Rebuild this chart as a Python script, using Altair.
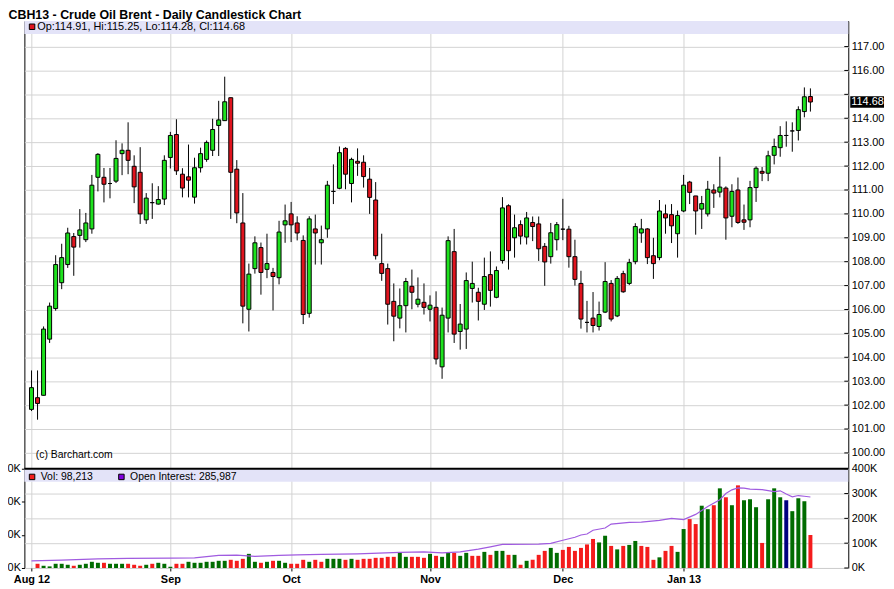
import altair as alt
import pandas as pd

title_text = "CBH13 - Crude Oil Brent - Daily Candlestick Chart"
copyright_text = "(c) Barchart.com"
month_labels = ["Aug 12", "Sep", "Oct", "Nov", "Dec", "Jan 13"]
month_start_idx = [0, 23, 43, 66, 88, 108]

opens = [
    101.82, 102.31, 102.41, 104.76, 106.04, 107.12, 107.88, 109.05, 109.10, 108.92,
    109.37, 111.53, 111.53, 111.27, 111.37, 112.52, 112.66, 111.99, 111.74, 109.75,
    110.47, 110.41, 110.62, 112.36, 113.32, 111.66, 111.55, 110.70, 111.93, 112.28,
    112.66, 113.70, 113.90, 114.86, 111.87, 109.62, 106.01, 107.71, 108.59, 107.68,
    107.55, 107.33, 109.54, 110.00, 109.62, 108.89, 105.84, 109.37, 108.79, 109.37,
    110.94, 111.07, 112.74, 111.27, 112.20, 112.16, 111.45, 110.58, 107.92, 107.71,
    106.34, 105.64, 106.16, 106.97, 106.22, 106.30, 106.01, 106.09, 103.60, 105.64,
    108.42, 105.08, 105.18, 106.88, 106.72, 106.22, 107.46, 106.51, 108.05, 110.34,
    109.00, 109.55, 109.03, 109.64, 109.58, 108.64, 108.21, 108.92, 109.36, 109.36,
    108.21, 107.09, 105.46, 105.64, 105.29, 105.89, 107.09, 105.73, 107.50, 107.09,
    108.00, 109.20, 109.37, 108.25, 108.17, 110.00, 109.97, 109.17, 110.12, 111.33,
    110.75, 110.20, 110.00, 111.00, 110.91, 111.08, 109.90, 111.00, 109.75, 109.75,
    111.10, 111.78, 111.70, 112.45, 112.77, 113.28, 113.47, 113.49, 114.28, 114.91,
]
highs = [
    103.45, 103.45, 105.29, 106.29, 108.27, 108.75, 109.42, 109.20, 110.20, 110.04,
    111.63, 112.54, 111.92, 111.92, 113.08, 112.95, 113.83, 112.45, 112.79, 110.87,
    111.28, 111.16, 112.45, 113.43, 113.96, 111.91, 112.90, 112.35, 112.77, 113.07,
    113.98, 114.73, 115.74, 114.86, 112.25, 110.87, 107.92, 109.06, 108.80, 109.17,
    107.74, 109.71, 110.39, 110.50, 109.90, 109.10, 109.90, 109.97, 109.51, 111.38,
    112.07, 112.82, 112.79, 112.35, 112.74, 112.45, 111.92, 111.33, 109.17, 107.92,
    107.09, 106.88, 107.32, 107.67, 107.34, 107.09, 106.59, 106.76, 106.08, 109.06,
    109.37, 106.23, 107.55, 108.00, 106.91, 108.17, 108.43, 107.80, 110.70, 110.40,
    109.97, 109.73, 110.08, 109.89, 109.89, 108.78, 109.62, 109.66, 110.63, 109.50,
    108.92, 107.62, 106.36, 106.73, 106.33, 107.98, 107.23, 107.40, 107.62, 108.12,
    109.61, 109.79, 109.40, 109.00, 110.58, 110.39, 110.41, 110.14, 111.63, 111.38,
    110.75, 110.75, 111.38, 111.24, 112.39, 111.15, 111.24, 111.52, 110.39, 111.38,
    111.99, 111.96, 112.64, 113.15, 113.67, 113.87, 113.83, 114.50, 115.29, 115.25,
]
lows = [
    101.75, 101.39, 102.40, 104.60, 105.95, 106.85, 107.74, 107.41, 108.59, 108.82,
    109.17, 110.94, 110.48, 110.65, 111.29, 111.62, 111.66, 110.45, 109.58, 109.58,
    109.79, 110.39, 110.37, 111.90, 111.63, 110.69, 110.69, 110.43, 111.73, 112.18,
    112.42, 112.42, 113.90, 109.79, 109.61, 105.42, 105.08, 107.50, 106.62, 107.31,
    105.96, 107.05, 108.79, 108.82, 108.89, 105.39, 105.66, 107.88, 107.88, 109.00,
    110.41, 111.03, 111.03, 110.48, 111.59, 111.10, 110.00, 108.09, 107.20, 105.37,
    104.67, 105.21, 105.04, 106.01, 106.09, 105.79, 105.50, 103.70, 103.10, 105.04,
    104.60, 104.32, 104.35, 106.29, 105.54, 105.98, 106.12, 106.47, 107.92, 107.67,
    108.17, 108.72, 108.72, 108.86, 108.03, 106.99, 107.92, 108.47, 108.90, 107.75,
    107.00, 105.20, 105.04, 105.04, 105.12, 105.85, 105.50, 105.68, 106.70, 107.02,
    107.89, 108.79, 107.90, 107.28, 108.06, 109.17, 108.78, 108.17, 110.07, 110.41,
    109.13, 109.37, 109.89, 110.25, 110.69, 108.92, 109.44, 109.58, 109.33, 109.44,
    110.50, 111.37, 111.37, 112.07, 112.39, 112.81, 112.60, 113.07, 114.04, 114.28,
]
closes = [
    102.73, 102.07, 105.18, 106.14, 107.88, 108.17, 109.20, 108.61, 109.33, 109.62,
    111.20, 112.49, 111.24, 111.27, 112.32, 112.66, 112.24, 111.13, 110.00, 110.66,
    110.47, 110.60, 112.24, 113.28, 111.80, 111.08, 111.41, 111.93, 112.52, 112.99,
    113.53, 113.93, 114.69, 111.74, 110.04, 106.14, 107.48, 108.79, 107.55, 107.92,
    107.38, 109.24, 109.71, 109.54, 109.20, 105.79, 109.79, 109.20, 108.92, 111.20,
    110.94, 112.56, 111.66, 112.28, 112.12, 111.56, 110.69, 108.25, 107.51, 106.22,
    105.72, 106.16, 107.17, 106.72, 106.43, 106.09, 106.18, 103.93, 105.76, 108.88,
    104.97, 105.39, 107.21, 107.09, 106.34, 107.38, 106.80, 107.63, 110.25, 108.46,
    109.42, 109.07, 109.83, 109.47, 108.54, 107.99, 109.21, 109.55, 109.36, 108.21,
    107.26, 105.60, 105.46, 105.33, 105.79, 107.17, 105.60, 107.30, 106.74, 107.96,
    109.47, 109.37, 108.17, 107.92, 110.12, 109.83, 109.50, 109.93, 111.20, 110.90,
    110.12, 110.43, 111.03, 110.87, 111.12, 109.83, 110.94, 109.64, 109.65, 111.10,
    111.91, 111.70, 112.43, 112.82, 113.28, 113.28, 113.47, 114.36, 114.90, 114.68,
]
# daily volume in thousands (first day has no bar)
volume_k = [
    None, 17, 9, 6.5, 17, 17, 13, 9, 13, 17,
    25, 21, 21, 17, 17, 17, 17, 13, 9, 13,
    17, 21, 17, 5, 17, 17, 25, 21, 21, 25,
    25, 29, 29, 33, 29, 37, 57, 25, 21, 25,
    29, 29, 21, 17, 17, 33, 25, 33, 25, 37,
    37, 37, 33, 37, 33, 37, 37, 41, 41, 45,
    45, 61, 45, 45, 45, 41, 57, 49, 45, 61,
    61, 49, 61, 49, 49, 65, 53, 69, 69, 53,
    53, 13, 29, 33, 53, 69, 81, 61, 73, 85,
    69, 81, 95, 117, 103, 130, 89, 75, 89, 93,
    109, 89, 85, 33, 43, 69, 89, 65, 157, 197,
    177, 251, 237, 253, 321, 285, 253, 333, 273, 277,
    245, 101, 277, 321, 285, 273, 229, 281, 269, 133,
]
# volume bar colour: g = up, r = down, b = unchanged
vol_dir = """g r g g g g g r g g  g g r g g g r r r g  r g g g r r g g g g
g g g r r r g g r g  r g g r r r g r r g  g g r g r r r r r r
r g g r r r g r g g  r g g r r g r g g r  g r g r r r g g r r
r r r r g g r g r g  g r r r g r r g g r  r g g r g r g r g g
g r g g g b g g g r""".split()
oi_idx = [0, 5, 11, 16, 23, 27, 31, 34, 37, 41, 44, 48, 54, 61, 65, 68, 71, 74, 76, 78,
          84, 86, 88, 90, 91, 92, 93, 95, 96, 99, 101, 104, 106, 108, 110, 111, 112, 114, 115, 116,
          117, 118, 119, 121, 123, 124, 125, 126, 127, 128, 129]
oi_k = [29, 32, 37, 39, 40, 41, 51, 52, 47, 51, 53, 55, 57, 63, 65, 61, 65, 76, 85, 95,
        96, 99, 112, 124, 133, 137, 152, 161, 177, 184, 185, 192, 200, 195, 216, 232, 248, 275, 300, 315,
        323, 322, 318, 316, 308, 311, 298, 287, 292, 289, 286]
vol_header_value = 98213
oi_header_value = 285987
price_ticks = list(range(100, 118))
vol_right_ticks = [0, 100000, 200000, 300000, 400000]
vol_left_ticks = [0, 100000, 200000, 300000]

# ---------------- layout constants ----------------
W, H = 830, 551
FONT = "Liberation Sans"
GREEN, RED = "#1ee21e", "#e0141e"
VCOLORS = {"g": "#006c00", "r": "#f41c1c", "b": "#000080"}
BAND = "#e3e3f8"
GRID = "#d3d3d3"
OI_COLOR = "#a05be0"

x_scale = alt.Scale(domain=[-0.357, 134.45], nice=False, zero=False)
price_scale = alt.Scale(domain=[95.185, 118.067], nice=False, zero=False)
vol_scale = alt.Scale(domain=[0, 2204000], nice=False, zero=False)
left_scale = alt.Scale(domain=[0, 1653000], nice=False, zero=False)

month_expr = " : ".join(f"datum.value == {i} ? '{lab}'" for i, lab in zip(month_start_idx, month_labels)) + " : ''"
x_axis = alt.Axis(values=month_start_idx, labelExpr=month_expr, grid=True, gridColor=GRID,
                  domain=False, ticks=True, tickSize=3, tickColor="black", labelPadding=3,
                  labelFontWeight="bold", labelFontSize=11, labelFont=FONT, labelColor="black",
                  title=None, labelOverlap=False)
last_close = closes[-1]
price_axis = alt.Axis(orient="right", values=price_ticks, grid=True, gridColor=GRID, domain=False,
                      ticks=False, labelPadding=3, labelFontSize=11, labelFont=FONT, labelColor="black",
                      labelExpr=f"abs(datum.value - {last_close}) < 0.5 ? '' : format(datum.value, '.2f')",
                      title=None, labelOverlap=False, labelBound=False, labelFlush=False)
vol_axis = alt.Axis(orient="right", values=vol_right_ticks, grid=True, gridColor=GRID, domain=False,
                    ticks=False, labelPadding=3, labelFontSize=11, labelFont=FONT, labelColor="black",
                    labelExpr="format(datum.value / 1000, 'd') + 'K'", title=None, labelOverlap=False,
                    labelFlush=False)
left_axis = alt.Axis(orient="left", values=vol_left_ticks, grid=False, domain=False, ticks=True,
                     tickSize=3, tickColor="black", labelPadding=1, labelFontSize=11, labelFont=FONT,
                     labelColor="black", labelExpr="format(datum.value / 1000, 'd') + 'K'",
                     title=None, labelOverlap=False, labelFlush=False)

# ---------------- data frames ----------------
n = len(closes)
candles = pd.DataFrame({"idx": list(range(n)), "open": opens, "high": highs, "low": lows, "close": closes})
candles["fill"] = [GREEN if c >= o else RED for o, c in zip(opens, closes)]

vol_df = pd.DataFrame({"idx": list(range(n)), "vol_k": volume_k, "dir": vol_dir})
vol_df = vol_df.dropna()
vol_df["vol"] = vol_df["vol_k"] * 1000
vol_df["fill"] = [VCOLORS[d] for d in vol_df["dir"]]
oi_df = pd.DataFrame({"idx": oi_idx, "oi": [v * 1000 for v in oi_k]})

last = candles.iloc[-1]
box_df = pd.DataFrame({"close": [last_close], "lo": [last_close - 0.24], "hi": [last_close + 0.24],
                       "label": [f"{last_close:.2f}"]})
header_price = f"Op:{last['open']:.2f}, Hi:{last['high']:.2f}, Lo:{last['low']:.2f}, Cl:{last['close']:.2f}"
header_vol = f"Vol: {vol_header_value:,}"
header_oi = f"Open Interest: {oi_header_value:,}"
one = pd.DataFrame({"a": [0]})
tick_df = pd.DataFrame({"p": price_ticks})
vtick_df = pd.DataFrame({"v": vol_right_ticks})

X = alt.X("idx:Q", scale=x_scale, axis=x_axis)


def PY(field):
    return alt.Y(field, scale=price_scale, axis=price_axis)


# ---------------- price group ----------------
wicks = alt.Chart(candles).mark_rule(color="black", strokeWidth=1).encode(
    x=X, y=PY("low:Q"), y2="high:Q")
bodies = alt.Chart(candles).mark_bar(size=4, stroke="black", strokeWidth=1).encode(
    x=X, y=PY("open:Q"), y2="close:Q", fill=alt.Fill("fill:N", scale=None))
ptick = alt.Chart(tick_df).mark_rule(color="black", strokeWidth=1).encode(
    y=PY("p:Q"), x=alt.value(W - 4), x2=alt.value(W))
pbox = alt.Chart(box_df).mark_rect(color="black").encode(
    y=PY("lo:Q"), y2="hi:Q", x=alt.value(W + 2), x2=alt.value(W + 36))
pbox_text = alt.Chart(box_df).mark_text(color="white", align="left", baseline="middle",
                                        fontSize=11, font=FONT).encode(
    y=PY("close:Q"), x=alt.value(W + 3), text="label:N")
price_group = alt.layer(wicks, bodies, ptick, pbox, pbox_text)


# ---------------- volume group ----------------
def VY(field):
    return alt.Y(field, scale=vol_scale, axis=vol_axis)


vbars = alt.Chart(vol_df).mark_bar(size=4).encode(
    x=X, y=VY("vol:Q"), fill=alt.Fill("fill:N", scale=None))
oiline = alt.Chart(oi_df).mark_line(color=OI_COLOR, strokeWidth=1.2).encode(x=X, y=VY("oi:Q"))
vtick = alt.Chart(vtick_df).mark_rule(color="black", strokeWidth=1).encode(
    y=VY("v:Q"), x=alt.value(W - 4), x2=alt.value(W))
vol_group = alt.layer(vbars, oiline, vtick)

# ---------------- left axis (volume, second scale) ----------------
left_group = alt.Chart(pd.DataFrame({"v": [0, 300000]})).mark_point(opacity=0).encode(
    y=alt.Y("v:Q", scale=left_scale, axis=left_axis), x=alt.value(0))

# ---------------- decorations ----------------
band_p = alt.Chart(one).mark_rect(color=BAND).encode(
    x=alt.value(0), x2=alt.value(W), y=alt.value(0), y2=alt.value(13))
band_v = alt.Chart(one).mark_rect(color=BAND).encode(
    x=alt.value(0), x2=alt.value(W), y=alt.value(451), y2=alt.value(464))
sq_p = alt.Chart(one).mark_rect(color=RED, stroke="black", strokeWidth=1).encode(
    x=alt.value(5), x2=alt.value(10.5), y=alt.value(3), y2=alt.value(8.5))
txt_p = alt.Chart(one).mark_text(align="left", baseline="middle", fontSize=11, font=FONT,
                                 color="black", text=header_price).encode(
    x=alt.value(13), y=alt.value(6.5))
sq_v = alt.Chart(one).mark_rect(color=VCOLORS["r"], stroke="black", strokeWidth=1).encode(
    x=alt.value(5), x2=alt.value(10.5), y=alt.value(456.5), y2=alt.value(462))
txt_v = alt.Chart(one).mark_text(align="left", baseline="middle", fontSize=10.5, font=FONT,
                                 color="black", text=header_vol).encode(
    x=alt.value(16.5), y=alt.value(459.5))
sq_oi = alt.Chart(one).mark_rect(color="#8000e0", stroke="black", strokeWidth=1).encode(
    x=alt.value(95), x2=alt.value(100.5), y=alt.value(456.5), y2=alt.value(462))
txt_oi = alt.Chart(one).mark_text(align="left", baseline="middle", fontSize=10.5, font=FONT,
                                  color="black", text=header_oi).encode(
    x=alt.value(106.5), y=alt.value(459.5))
sep = alt.Chart(one).mark_rule(color="black", strokeWidth=2).encode(
    x=alt.value(0), x2=alt.value(W), y=alt.value(451))
copy_t = alt.Chart(one).mark_text(align="left", baseline="middle", fontSize=10.5, font=FONT,
                                  color="black", text=copyright_text).encode(
    x=alt.value(11.5), y=alt.value(437))
title_t = alt.Chart(one).mark_text(align="left", baseline="alphabetic", fontSize=12.5, font=FONT,
                                   fontWeight="bold", color="black", text=title_text).encode(
    x=alt.value(-16), y=alt.value(-2.2))
deco = alt.layer(band_p, band_v, sep, sq_p, txt_p, sq_v, txt_v, sq_oi, txt_oi, copy_t, title_t)

chart = alt.layer(deco, price_group, vol_group, left_group).resolve_scale(y="independent").properties(
    width=W, height=H,
    autosize=alt.AutoSizeParams(type="none"),
    padding={"left": 16.5, "top": 11, "right": 38, "bottom": 18},
    background="white",
).configure_view(stroke="black", strokeWidth=1)

chart.save("out.html", embed_options={"renderer": "svg", "actions": False})
